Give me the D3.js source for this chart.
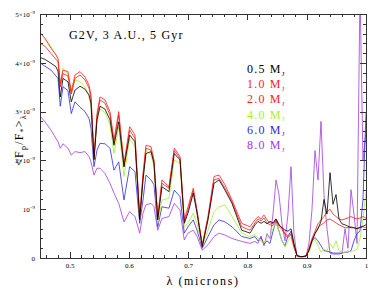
<!DOCTYPE html>
<html>
<head>
<meta charset="utf-8">
<script src="https://cdn.jsdelivr.net/npm/d3@7"></script>
<style>
  body { margin: 0; background: #fff; }
  svg { display: block; font-family: "Liberation Serif", "Times New Roman", serif; }
  .axis path, .axis line { stroke: #333; shape-rendering: crispEdges; }
  .axis text { font-family: "Liberation Serif", serif; font-size: 7px; fill: #000; }
  .lbl { letter-spacing: 1.2px; }
</style>
</head>
<body>
<svg id="chart" width="389" height="291"></svg>
<script>
// wavelength grid (microns)
var wavelengths = [
  0.4500, 0.4584, 0.4686, 0.4770, 0.4804, 0.4842, 0.4888, 0.4972, 0.5028, 0.5090,
  0.5175, 0.5259, 0.5327, 0.5360, 0.5411, 0.5462, 0.5512, 0.5597, 0.5681, 0.5748,
  0.5828, 0.5917, 0.6013, 0.6103, 0.6182, 0.6238, 0.6288,
  0.6373, 0.6423, 0.6486, 0.6558, 0.6676, 0.6766, 0.6862, 0.6934, 0.6997, 0.7086,
  0.7149, 0.7238, 0.7334, 0.7436, 0.7520, 0.7621, 0.7739, 0.7903, 0.8043,
  0.8127, 0.8178, 0.8229, 0.8279, 0.8330, 0.8380, 0.8431, 0.8482, 0.8532, 0.8583,
  0.8633, 0.8684, 0.8735, 0.8785, 0.8836, 0.8887, 0.8937, 0.8988, 0.9038, 0.9089,
  0.9140, 0.9190, 0.9241, 0.9291, 0.9342, 0.9393, 0.9443, 0.9494, 0.9544, 0.9595,
  0.9646, 0.9696, 0.9747, 0.9797, 0.9848, 0.9899, 0.9949, 1.0000
];

// contrast ratio, units of 1e-9
var mass05 = [
  4.11, 4.07, 3.99, 3.92, 3.82, 3.30, 3.68, 3.61, 3.20, 3.44,
  3.52, 3.46, 3.34, 3.17, 2.01, 2.83, 3.11, 3.05, 2.83, 2.31,
  2.79, 1.87, 2.52, 2.38, 0.78, 1.60, 2.14,
  2.18, 1.94, 0.78, 1.46, 1.36, 2.14, 2.01, 0.71, 0.92, 1.33,
  0.92, 0.23, 0.78, 1.53, 1.60, 1.39, 1.12, 0.57, 0.51,
  0.68, 0.75, 0.71, 0.75, 0.70, 0.75, 0.72, 0.80, 0.68, 0.62,
  0.57, 0.55, 0.60, 0.30, 0.05, 0.03, 0.03, 0.04, 0.15, 0.35,
  0.50, 0.60, 0.75, 1.20, 0.90, 1.75, 1.10, 1.30, 0.80, 0.70,
  0.68, 0.65, 0.62, 0.62, 0.60, 0.63, 0.65, 0.68
];
var mass10 = [
  4.62, 4.50, 4.30, 4.16, 4.09, 3.58, 3.85, 3.82, 3.41, 3.75,
  3.82, 3.71, 3.54, 3.34, 2.08, 2.96, 3.30, 3.24, 3.00, 2.42,
  3.00, 1.94, 2.69, 2.52, 0.85, 1.73, 2.31,
  2.28, 2.01, 0.85, 1.60, 1.46, 2.25, 2.08, 0.78, 1.05, 1.43,
  0.98, 0.27, 0.85, 1.67, 1.70, 1.50, 1.19, 0.71, 0.64,
  0.78, 0.85, 0.80, 0.88, 0.78, 0.72, 0.70, 0.80, 0.68, 0.62,
  0.50, 0.45, 0.50, 0.25, 0.05, 0.03, 0.03, 0.04, 0.20, 0.40,
  0.55, 0.70, 0.78, 0.85, 0.95, 1.00, 0.90, 0.85, 0.80, 0.78,
  0.80, 0.82, 0.85, 0.82, 0.80, 0.82, 0.85, 0.82
];
var mass20 = [
  4.40, 4.34, 4.19, 4.07, 4.02, 3.51, 3.78, 3.73, 3.36, 3.68,
  3.75, 3.65, 3.48, 3.27, 2.04, 2.90, 3.24, 3.17, 2.93, 2.35,
  2.93, 1.87, 2.62, 2.45, 0.81, 1.67, 2.25,
  2.21, 1.97, 0.81, 1.53, 1.43, 2.20, 2.04, 0.74, 0.98, 1.38,
  0.95, 0.25, 0.81, 1.60, 1.63, 1.43, 1.15, 0.64, 0.57,
  0.72, 0.80, 0.76, 0.82, 0.72, 0.68, 0.66, 0.78, 0.65, 0.58,
  0.48, 0.42, 0.48, 0.22, 0.05, 0.03, 0.03, 0.04, 0.18, 0.36,
  0.50, 0.62, 0.68, 0.72, 0.78, 0.80, 0.76, 0.72, 0.68, 0.65,
  0.62, 0.62, 0.64, 0.62, 0.60, 0.62, 0.64, 0.62
];
var mass40 = [
  4.62, 4.50, 4.33, 4.16, 4.06, 3.51, 3.89, 3.77, 3.36, 3.65,
  3.61, 3.51, 3.30, 3.13, 2.01, 2.83, 3.05, 2.98, 2.73, 2.14,
  2.69, 1.67, 2.45, 2.28, 0.78, 1.60, 2.21,
  2.11, 1.87, 0.71, 1.19, 1.22, 2.01, 1.94, 0.64, 0.71, 0.92,
  0.71, 0.23, 0.57, 0.95, 1.05, 1.09, 0.85, 0.51, 0.44,
  0.48, 0.40, 0.35, 0.30, 0.38, 0.45, 0.60, 0.72, 0.55, 0.35,
  0.22, 0.35, 0.42, 0.20, 0.04, 0.03, 0.03, 0.04, 0.12, 0.30,
  0.38, 0.25, 0.12, 0.18, 0.15, 0.30, 0.20, 0.35, 0.15, 0.12,
  0.12, 0.15, 0.12, 0.15, 0.18, 0.40, 0.80, 1.35
];
var mass60 = [
  4.00, 3.93, 3.85, 3.73, 3.68, 3.11, 3.51, 3.43, 2.96, 3.20,
  3.09, 3.00, 2.86, 2.66, 1.87, 2.21, 2.35, 2.34, 2.25, 1.80,
  1.97, 1.19, 1.87, 1.77, 0.71, 1.19, 1.70,
  1.60, 1.50, 0.64, 1.05, 1.02, 1.39, 1.26, 0.51, 0.64, 0.78,
  0.57, 0.20, 0.44, 0.68, 0.78, 0.74, 0.64, 0.44, 0.40,
  0.44, 0.35, 0.42, 0.28, 0.35, 0.30, 0.55, 0.75, 0.55, 0.35,
  0.25, 0.45, 0.55, 0.25, 0.04, 0.03, 0.03, 0.04, 0.15, 0.35,
  0.42, 0.35, 0.25, 0.15, 0.14, 0.12, 0.10, 0.10, 0.10, 0.10,
  0.12, 0.12, 0.15, 0.35, 0.50, 0.55, 1.20, 2.97
];
var mass80 = [
  2.91, 2.79, 2.62, 2.45, 2.38, 2.25, 2.34, 2.25, 2.11, 2.18,
  2.16, 2.18, 2.08, 1.97, 1.70, 1.84, 1.84, 1.73, 1.53, 1.33,
  1.12, 0.74, 0.95, 0.85, 0.51, 0.92, 1.09,
  1.12, 1.05, 0.57, 0.81, 0.85, 1.12, 0.98, 0.37, 0.51, 0.57,
  0.44, 0.16, 0.27, 0.44, 0.51, 0.47, 0.40, 0.34, 0.30,
  0.34, 0.30, 0.45, 0.25, 0.50, 0.40, 0.90, 1.60, 1.30, 0.70,
  0.35, 0.90, 1.87, 0.50, 0.03, 0.02, 0.02, 0.03, 0.30, 1.00,
  2.20, 1.60, 2.80, 1.30, 0.60, 0.10, 0.08, 0.08, 0.08, 0.10,
  0.60, 0.20, 1.40, 0.90, 0.30, 5.50, 2.00, 2.60
];

var seriesNames = ["0.5", "1.0", "2.0", "4.0", "6.0", "8.0"];
var seriesValues = [mass05, mass10, mass20, mass40, mass60, mass80];
var seriesColors = ["#000000", "#ff1a1a", "#ff1a1a", "#a2f22c", "#2a2ae6", "#a33be0"];

var xTicks = [0.5, 0.6, 0.7, 0.8, 0.9, 1];
var yTicks = [0, 1, 2, 3, 4, 5];

var svg = d3.select("#chart"),
  plot = { left: 40, right: 366, top: 14, bottom: 258 };

var x = d3.scaleLinear().domain([0.45, 1]).range([plot.left, plot.right]);
var y = d3.scaleLinear().domain([0, 5]).range([plot.bottom, plot.top]);

svg.append("clipPath").attr("id", "clip")
  .append("rect")
  .attr("x", plot.left).attr("y", plot.top)
  .attr("width", plot.right - plot.left).attr("height", plot.bottom - plot.top);

// lines, drawn back to front so black sits on top
var line = d3.line()
  .x(function(d) { return x(d[0]); })
  .y(function(d) { return y(d[1]); });

var order = [5, 4, 3, 2, 1, 0];
svg.append("g").attr("clip-path", "url(#clip)")
  .selectAll("path")
  .data(order)
  .enter().append("path")
  .attr("fill", "none")
  .attr("stroke", function(i) { return seriesColors[i]; })
  .attr("stroke-width", 0.8)
  .attr("stroke-linejoin", "round")
  .attr("d", function(i) {
    return line(wavelengths.map(function(w, k) { return [w, seriesValues[i][k]]; }));
  });

// axes
var minorX = d3.range(0.46, 1.0001, 0.02);
var minorY = d3.range(0, 5.0001, 0.2);

function frame(axis, tr, ticks, size, labels) {
  var g = svg.append("g").attr("class", "axis").attr("transform", tr)
    .call(axis.tickValues(ticks).tickSize(size).tickFormat(labels ? null : ""));
  return g;
}

frame(d3.axisBottom(x), "translate(0," + plot.bottom + ")", minorX, -3, false);
frame(d3.axisTop(x), "translate(0," + plot.top + ")", minorX, -3, false);
frame(d3.axisLeft(y), "translate(" + plot.left + ",0)", minorY, -3, false);
frame(d3.axisRight(y), "translate(" + plot.right + ",0)", minorY, -3, false);

var xb = frame(d3.axisBottom(x), "translate(0," + plot.bottom + ")", xTicks, -6, true);
xb.selectAll("text").attr("y", 5).text(function(d) { return d === 1 ? "1" : d3.format(".1f")(d); });
frame(d3.axisTop(x), "translate(0," + plot.top + ")", xTicks, -6, false);
frame(d3.axisRight(y), "translate(" + plot.right + ",0)", yTicks, -6, false);

var yl = frame(d3.axisLeft(y), "translate(" + plot.left + ",0)", yTicks, -6, true);
yl.selectAll("text").attr("x", -5).each(function(d) {
  var t = d3.select(this).text("");
  if (d === 0) { t.text("0"); return; }
  t.append("tspan").text(d === 1 ? "10" : d + "×10");
  t.append("tspan").attr("dy", -3).attr("font-size", 5).text("−9");
});

// title
svg.append("text").attr("class", "lbl").attr("x", 69).attr("y", 38.5)
  .attr("font-size", 12).text("G2V, 3 A.U., 5 Gyr");

// legend
var leg = svg.append("g").attr("class", "lbl").attr("font-size", 12);
seriesNames.forEach(function(n, i) {
  var t = leg.append("text").attr("x", 247).attr("y", 73 + i * 15.2)
    .attr("fill", seriesColors[i]);
  t.append("tspan").text(n + " M");
  t.append("tspan").attr("dy", 2.5).attr("font-size", 7).text("J");
});

// axis titles
svg.append("text").attr("class", "lbl").attr("x", 203).attr("y", 285).attr("text-anchor", "middle")
  .attr("font-size", 12).style("letter-spacing", "1.6px").text("λ (microns)");

var yt = svg.append("text").attr("class", "lbl").attr("transform", "translate(23,140) rotate(-90)")
  .attr("text-anchor", "middle").attr("font-size", 12);
yt.append("tspan").text("<F");
yt.append("tspan").attr("dy", 3).attr("font-size", 8).text("p");
yt.append("tspan").attr("dy", -3).text("/F");
yt.append("tspan").attr("dy", 3).attr("font-size", 8).text("*");
yt.append("tspan").attr("dy", -3).text(">");
yt.append("tspan").attr("dy", 3).attr("font-size", 8).text("λ");
</script>
</body>
</html>
